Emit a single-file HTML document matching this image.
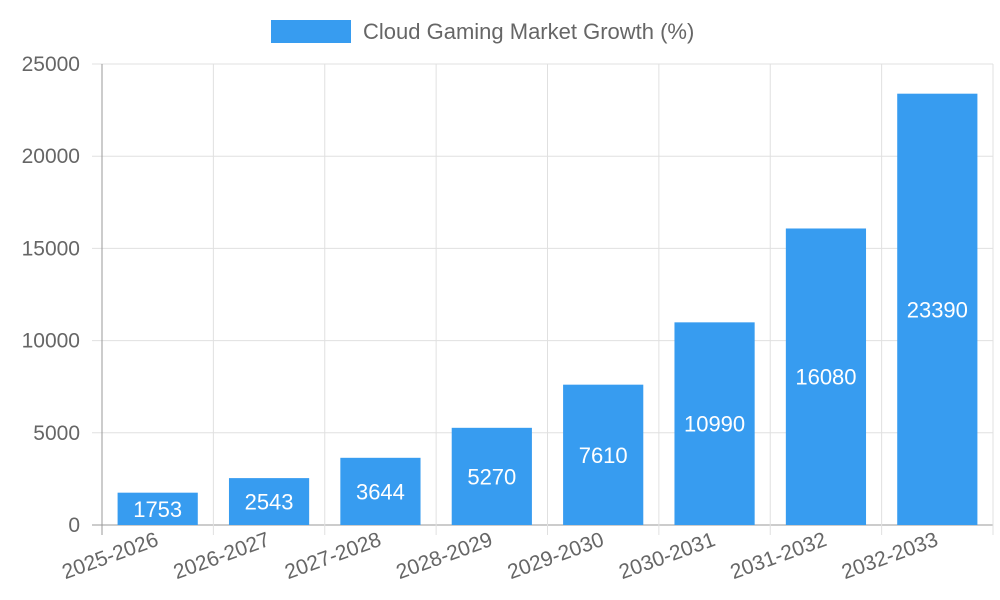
<!DOCTYPE html>
<html><head><meta charset="utf-8"><style>
html,body{margin:0;padding:0;background:#fff;}
svg{display:block;font-family:"Liberation Sans",sans-serif;}
</style></head><body>
<svg id="chart" width="1000" height="600">
<g>
<rect x="271" y="20" width="80" height="23" fill="#379cf0"></rect>
<text x="363" y="39" font-size="22" fill="#666">Cloud Gaming Market Growth (%)</text>
</g>
<g id="grid"></g>
<g id="bars"></g>
<g id="axes"></g>
</svg>
<script>
const categories=["2025-2026","2026-2027","2027-2028","2028-2029","2029-2030","2030-2031","2031-2032","2032-2033"];
const values=[1753,2543,3644,5270,7610,10990,16080,23390];
const yTicks=[0,5000,10000,15000,20000,25000];
const NS="http://www.w3.org/2000/svg";
const L=102,R=993,T=64,B=525,yMax=25000;
const step=(R-L)/categories.length;
const y=v=>B-(v/yMax)*(B-T);
const xc=i=>L+step*(i+0.5);
function mk(tag,attrs,parent,text){const e=document.createElementNS(NS,tag);for(const k in attrs)e.setAttribute(k,attrs[k]);if(text!=null)e.textContent=text;parent.appendChild(e);return e;}
const grid=document.getElementById('grid'),bars=document.getElementById('bars'),axes=document.getElementById('axes');
yTicks.forEach(t=>{
 const g=mk('line',{x1:92,x2:R,y1:y(t),y2:y(t),stroke:t===0?'#999':'#e0e0e0','stroke-width':1},grid);
 
 
 const lb=mk('text',{x:80,y:y(t)+7,'text-anchor':'end','font-size':21,fill:'#666'},axes,String(t));
 
 
});
for(let i=0;i<=categories.length;i++){
 const x=L+step*i;
 const g=mk('line',{x1:x,x2:x,y1:T,y2:B+10,stroke:i===0?'#999':'#e0e0e0','stroke-width':1},grid);
 
 
}
const bw=step*0.72;
values.forEach((v,i)=>{
 const r=mk('rect',{x:xc(i)-bw/2,y:y(v),width:bw,height:B-y(v),fill:'#379cf0'},bars);
 
 
 const t=mk('text',{x:xc(i),y:(y(v)+B)/2+8,'text-anchor':'middle','font-size':22,fill:'#fff'},bars,String(v));
 
 
});
categories.forEach((c,i)=>{
 const x=xc(i)+2,yy=545;
 const t=mk('text',{x:x,y:yy,'text-anchor':'end','font-size':21,fill:'#666',transform:`rotate(-20 ${x} ${yy})`},axes,c);
 
 
});
</script>
</body></html>
